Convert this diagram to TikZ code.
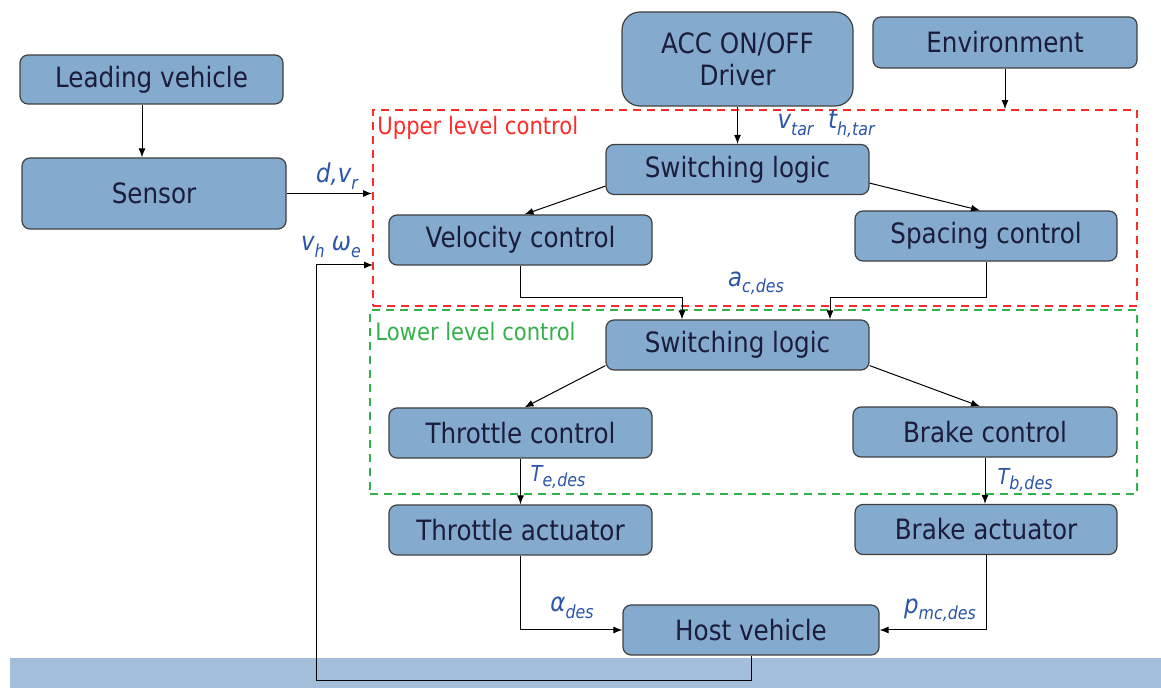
\documentclass[tikz,border=0pt]{standalone}
\usepackage{fontspec}
\setmainfont{DejaVu Sans}[FakeStretch=0.88]
\usetikzlibrary{arrows.meta}
\definecolor{boxfill}{HTML}{84AACD}
\definecolor{boxtext}{HTML}{1C1C3C}
\definecolor{sigblue}{HTML}{2A55A8}
\definecolor{upred}{HTML}{FF2A2A}
\definecolor{lowgreen}{HTML}{33B04A}
\definecolor{band}{HTML}{A2BEDA}
\newcommand{\lsub}[1]{\raisebox{-0.45ex}{\fontsize{9}{9}\selectfont #1}}
\begin{document}
\begin{tikzpicture}[x=0.5pt,y=-0.5pt,
  blk/.style={draw=black!75, line width=0.6pt, fill=boxfill, rounded corners=4pt,
    text=boxtext, font=\fontsize{14}{16}\selectfont, inner sep=0pt,
    minimum width=131.5pt, minimum height=25pt, align=center},
  zone/.style={dashed, dash pattern=on 4pt off 3pt, line width=0.9pt, inner sep=0pt},
  arr/.style={-{Latex[length=4.5pt,width=3.5pt]}, line width=0.5pt, black},
  link/.style={line width=0.5pt, black},
  sig/.style={text=sigblue, font=\itshape\fontsize{13}{14}\selectfont, inner sep=1pt},
  sigs/.style={text=sigblue, font=\itshape\fontsize{11}{12}\selectfont, inner sep=1pt},
  zonelabel/.style={font=\fontsize{12}{13}\selectfont, anchor=west, inner sep=0pt}]

\useasboundingbox (0,0) rectangle (1161,688);
\fill[white] (0,0) rectangle (1161,688);
% ground band under the host vehicle
\fill[band] (10,658) rectangle (1161,688);

% control zones
\node[zone, draw=upred, minimum width=382pt, minimum height=98pt] (upper) at (755,208) {};
\node[zone, draw=lowgreen, minimum width=383.5pt, minimum height=92pt] (lower) at (753.5,402) {};
\node[zonelabel, text=upred] (uplbl) at (377,128) {Upper level control};
\node[zonelabel, text=lowgreen] (lowlbl) at (375,332) {Lower level control};

% blocks
\node[blk, minimum height=24.5pt] (lead) at (151.5,79.5) {Leading vehicle};
\node[blk, minimum width=132pt, minimum height=35.5pt] (sensor) at (154,193.5) {Sensor};
\node[blk, minimum width=115.5pt, minimum height=47pt, rounded corners=9pt] (acc) at (737.5,59) {ACC ON/OFF\\Driver};
\node[blk, minimum width=132pt, minimum height=25.5pt] (env) at (1005,42.5) {Environment};
\node[blk] (sl1) at (737.5,169.5) {Switching logic};
\node[blk] (vel) at (520.5,240) {Velocity control};
\node[blk, minimum width=131pt] (spc) at (986,236) {Spacing control};
\node[blk] (sl2) at (737.5,345) {Switching logic};
\node[blk] (thc) at (520.5,433) {Throttle control};
\node[blk, minimum width=132pt] (brc) at (985,432) {Brake control};
\node[blk] (tha) at (520.5,530) {Throttle actuator};
\node[blk, minimum width=131pt] (bra) at (986,529.5) {Brake actuator};
\node[blk, minimum width=128pt] (host) at (751,630) {Host vehicle};

% feedback corner points
\coordinate (fbcorner) at (316,680);
\coordinate (fbin) at (373,265);

% connectors
\draw[arr] ([xshift=-4.75pt]lead.south) -- ([xshift=-4.75pt]lead.south |- sensor.north);
\draw[arr] (sensor.east) -- (sensor.east -| upper.west);
\draw[arr] (host.south) |- (fbcorner) |- (fbin);
\draw[arr] (acc.south) -- (sl1.north);
\draw[arr] (env.south) -- (env.south |- upper.north);
\draw[arr] ([yshift=4.5pt]sl1.south west) -- ([xshift=2pt]vel.north);
\draw[arr] ([yshift=6pt]sl1.south east) -- ([xshift=-3pt]spc.north);
\draw[arr] (vel.south) -- ++(0,32) -| ([xshift=-27.75pt]sl2.north);
\draw[arr] (spc.south) -- ++(0,36) -| ([xshift=46.25pt]sl2.north);
\draw[arr] ([yshift=2.5pt]sl2.south west) -- ([xshift=2pt]thc.north);
\draw[arr] ([yshift=2.5pt]sl2.south east) -- ([xshift=-2.5pt]brc.north);
\draw[arr] (thc.south) -- (thc.south |- tha.north);
\draw[arr] (brc.south) -- (brc.south |- bra.north);
\draw[arr] (tha.south) |- (host.west);
\draw[arr] (bra.south) |- (host.east);

% signal labels
\node[sig] (ldv) at (337,176) {d,v\lsub{r}};
\node[sig] (lvw) at (331,247) {v\lsub{h} ω\lsub{e}};
\node[sig] (lvt) at (826,124) {v\lsub{tar}\ \ t\lsub{h,tar}};
\node[sig] (lac) at (756,283) {a\lsub{c,des}};
\node[sigs] (lte) at (558,477) {T\lsub{e,des}};
\node[sigs] (ltb) at (1025,480) {T\lsub{b,des}};
\node[sig] (lal) at (572,608) {α\lsub{des}};
\node[sig] (lpm) at (940,610) {p\lsub{mc,des}};
\end{tikzpicture}
\end{document}
